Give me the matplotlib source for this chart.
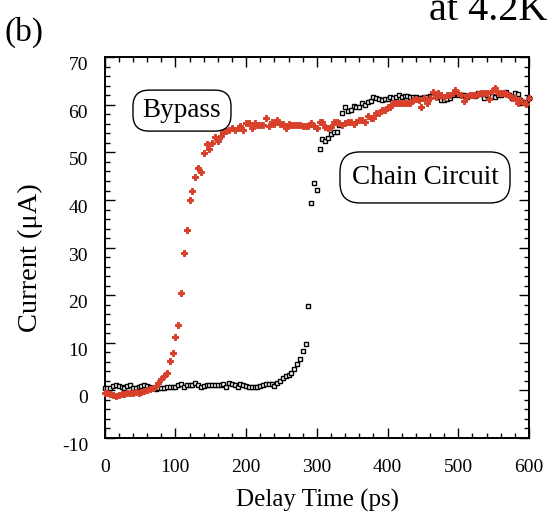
import numpy as np
import matplotlib
matplotlib.use('Agg')
import matplotlib.pyplot as plt
from matplotlib.patches import FancyBboxPatch
from matplotlib.ticker import MultipleLocator

# ---------------- data ----------------
delay_ps = np.arange(0, 601, 4)

bypass_uA = [
    -0.5, -0.6, -0.7, -0.9, -1.1, -1.0, -0.8, -0.7, -0.6, -0.6,
    -0.6, -0.4, -0.5, -0.3, -0.1, 0.0, 0.2, 0.4, 0.9, 1.5,
    2.4, 3.1, 3.7, 6.2, 7.8, 11.3, 13.7, 20.4, 28.8, 33.6,
    39.9, 42.0, 44.8, 46.8, 45.8, 49.9, 51.7, 50.8, 52.0, 53.3,
    52.4, 53.4, 54.3, 54.5, 54.7, 55.1, 54.8, 55.1, 55.5, 54.8,
    56.2, 56.2, 55.2, 56.2, 55.7, 55.8, 55.8, 57.2, 55.6, 56.4,
    55.9, 56.9, 55.9, 55.9, 55.2, 55.9, 55.8, 55.7, 55.7, 55.7,
    55.6, 55.6, 55.5, 56.2, 55.5, 55.2, 56.5, 56.5, 55.3, 55.2,
    55.3, 56.3, 56.3, 56.2, 55.8, 56.2, 56.5, 56.5, 55.9, 56.5,
    56.9, 56.9, 56.4, 57.7, 57.2, 57.2, 58.2, 58.2, 59.0, 59.0,
    59.6, 59.6, 60.3, 60.4, 60.4, 60.4, 60.4, 60.4, 60.4, 61.0,
    61.2, 61.0, 59.6, 61.4, 60.4, 61.5, 62.8, 61.7, 62.4, 62.0,
    61.7, 62.0, 62.1, 62.5, 63.1, 62.4, 62.0, 60.9, 61.8, 62.1,
    62.1, 62.1, 62.3, 62.4, 62.4, 62.4, 61.2, 63.0, 63.5, 62.4,
    62.4, 62.4, 62.2, 62.1, 61.4, 61.4, 60.4, 61.0, 60.5, 60.2,
    61.4,
]

chain_uA = [
    0.4, 0.5, 0.6, 0.9, 1.1, 0.9, 0.7, 0.4, 0.9, 1.1,
    0.5, 0.6, 0.8, 1.0, 1.1, 0.9, 0.7, 0.4, 0.2, 0.4,
    0.5, 0.5, 0.8, 0.8, 0.8, 0.8, 1.1, 1.3, 0.8, 1.1,
    1.1, 1.2, 1.6, 1.1, 0.8, 1.0, 1.1, 1.1, 1.1, 1.1,
    1.1, 1.1, 1.3, 0.8, 1.5, 1.3, 1.1, 0.8, 1.3, 1.1,
    0.9, 0.8, 0.8, 0.8, 0.8, 1.0, 1.1, 1.3, 1.3, 1.3,
    1.0, 1.5, 2.0, 2.6, 3.1, 3.3, 3.6, 4.5, 5.5, 6.5,
    8.2, 9.8, 17.7, 39.4, 43.5, 42.2, 50.8, 52.8, 52.4, 53.0,
    53.8, 54.2, 54.2, 55.8, 58.2, 59.6, 58.7, 59.0, 59.8, 59.6,
    59.6, 60.3, 60.0, 60.7, 60.9, 61.7, 61.5, 61.2, 61.0, 61.2,
    61.2, 61.7, 61.4, 61.6, 62.1, 61.7, 61.9, 61.9, 61.7, 61.7,
    61.7, 61.4, 61.4, 61.6, 61.7, 61.8, 61.9, 61.9, 61.6, 61.0,
    61.0, 61.2, 61.5, 62.1, 62.5, 62.1, 62.1, 62.0, 61.7, 62.1,
    62.0, 61.9, 62.4, 62.2, 61.4, 62.1, 62.1, 61.8, 61.7, 62.1,
    62.1, 62.4, 62.8, 62.1, 61.4, 62.4, 62.2, 61.0, 60.7, 60.4,
    61.4,
]

x_ticks = [0, 100, 200, 300, 400, 500, 600]
y_ticks = [-10, 0, 10, 20, 30, 40, 50, 60, 70]

# ---------------- style ----------------
plt.rcParams['font.family'] = ['Liberation Serif', 'DejaVu Serif']

fig = plt.figure(figsize=(5.48, 5.22), dpi=100)
ax = fig.add_axes([0.191, 0.161, 0.7743, 0.7293])

ax.plot(delay_ps, chain_uA, ls='none', marker='s', ms=3.4, mfc='white',
        mec='black', mew=1.0, clip_on=False, zorder=3)
ax.plot(delay_ps, bypass_uA, ls='none', marker='P', ms=4.0, color='#d8402a',
        mec='#d8402a', mew=0.7, clip_on=False, zorder=4)

ax.set_xlim(0, 600)
ax.set_ylim(-10, 70)
ax.set_xticks(x_ticks)
ax.set_yticks(y_ticks)
ax.set_xticklabels([str(v) for v in x_ticks])
ax.set_yticklabels([str(v) for v in y_ticks])
ax.xaxis.set_minor_locator(MultipleLocator(20))
ax.yaxis.set_minor_locator(MultipleLocator(2))
ax.tick_params(which='both', direction='in', top=True, right=True, width=1.0)
ax.tick_params(which='major', length=7.2)
ax.tick_params(which='minor', length=3.8)
ax.tick_params(axis='x', which='major', labelsize=14, pad=15)
ax.tick_params(axis='y', which='major', labelsize=14, pad=12)
for lab in ax.get_yticklabels():
    lab.set_va('top')
for s in ax.spines.values():
    s.set_linewidth(1.4)

# annotation boxes (axes fraction)
asp = (0.7293 * 5.22) / (0.7743 * 5.48)
for (x0, y0, w, h, r, txt, cx, cy) in [
    (0.0667, 0.806, 0.231, 0.1077, 0.038, 'Bypass', 0.182, 0.859),
    (0.5546, 0.6173, 0.4007, 0.134, 0.047, 'Chain Circuit', 0.755, 0.683),
]:
    p = FancyBboxPatch((x0, y0), w, h, boxstyle=f'round,pad=0,rounding_size={r}',
                       transform=ax.transAxes, mutation_aspect=1/asp,
                       fc='white', ec='black', lw=1.0, zorder=5)
    ax.add_patch(p)
    ax.text(cx, cy, txt, transform=ax.transAxes, ha='center', va='center',
            fontsize=19.5, zorder=6)

fig.text(0.580, 0.042, 'Delay Time (ps)', ha='center', va='center', fontsize=18)
fig.text(0.0547, 0.506, 'Current (μA)', ha='center', va='center', fontsize=20.5,
         rotation=90)
fig.text(0.008, 0.921, '(b)', ha='left', va='baseline', fontsize=24)
fig.text(0.998, 0.962, 'at 4.2K', ha='right', va='baseline', fontsize=29)

fig.savefig('out.png', dpi=100)
